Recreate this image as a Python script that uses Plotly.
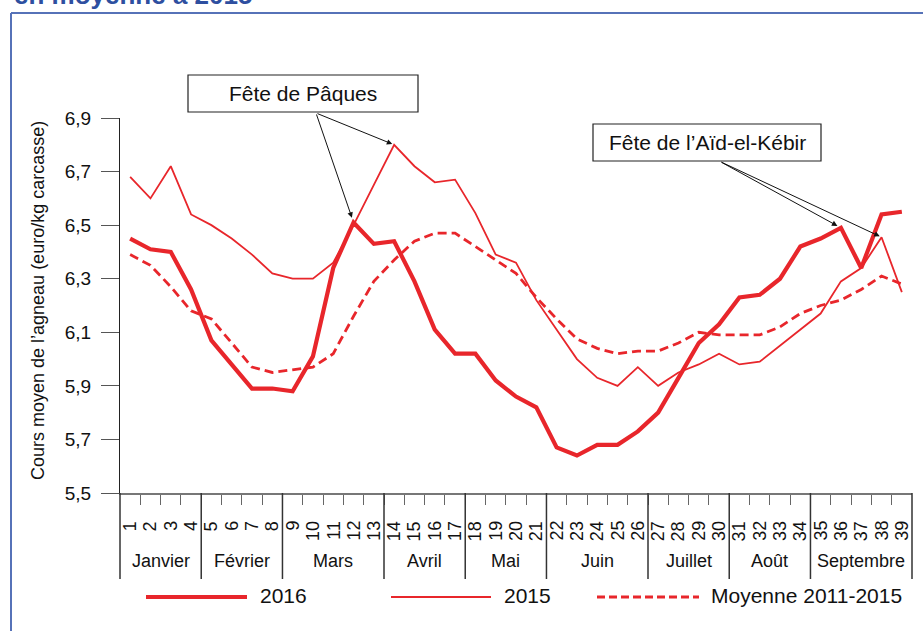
import plotly.graph_objects as go

# ---------------- data ----------------
weeks = list(range(1, 40))
week_labels = [str(w) for w in weeks]

prix_2016 = [6.45, 6.41, 6.40, 6.26, 6.07, 5.98, 5.89, 5.89, 5.88, 6.01,
             6.34, 6.51, 6.43, 6.44, 6.29, 6.11, 6.02, 6.02, 5.92, 5.86,
             5.82, 5.67, 5.64, 5.68, 5.68, 5.73, 5.80, 5.93, 6.06, 6.13,
             6.23, 6.24, 6.30, 6.42, 6.45, 6.49, 6.34, 6.54, 6.55]

prix_2015 = [6.68, 6.60, 6.72, 6.54, 6.50, 6.45, 6.39, 6.32, 6.30, 6.30,
             6.36, 6.50, 6.65, 6.80, 6.72, 6.66, 6.67, 6.545, 6.39, 6.36,
             6.22, 6.11, 6.00, 5.93, 5.90, 5.97, 5.90, 5.95, 5.98, 6.02,
             5.98, 5.99, 6.05, 6.11, 6.17, 6.29, 6.34, 6.455, 6.25]

moyenne_2011_2015 = [6.39, 6.35, 6.27, 6.18, 6.15, 6.06, 5.97, 5.95, 5.96, 5.97,
                     6.02, 6.16, 6.29, 6.37, 6.44, 6.47, 6.47, 6.42, 6.37, 6.32,
                     6.23, 6.15, 6.075, 6.04, 6.02, 6.03, 6.03, 6.06, 6.10, 6.09,
                     6.09, 6.09, 6.12, 6.17, 6.20, 6.22, 6.26, 6.31, 6.28]

months = ["Janvier", "Février", "Mars", "Avril", "Mai", "Juin",
          "Juillet", "Août", "Septembre"]
month_weeks = [4, 4, 5, 4, 4, 5, 4, 4, 5]

y_ticks = [5.5, 5.7, 5.9, 6.1, 6.3, 6.5, 6.7, 6.9]

series_names = ["2016", "2015", "Moyenne 2011-2015"]
y_title = "Cours moyen de l\u2019agneau (euro/kg carcasse)"
title_text = "en moyenne à 2015"
note_paques = "Fête de Pâques"
note_aid = "Fête de l\u2019Aïd-el-Kébir"

# ---------------- layout helpers ----------------
W, H = 923, 631
L, R, T, B = 120, 11, 118, 138
PW, PH = W - L - R, H - T - B
RED = "#e8262b"
FONT = "Liberation Sans, Arial, sans-serif"
TXT = "#111111"


def px2x(px):
    return (px - L) / PW


def py2y(py):
    return (H - B - py) / PH


fig = go.Figure()

fig.add_trace(go.Scatter(x=weeks, y=moyenne_2011_2015, mode="lines",
                         name=series_names[2],
                         line=dict(color=RED, width=2.8, dash="9px,5px")))
fig.add_trace(go.Scatter(x=weeks, y=prix_2015, mode="lines", name=series_names[1],
                         line=dict(color=RED, width=1.8)))
fig.add_trace(go.Scatter(x=weeks, y=prix_2016, mode="lines", name=series_names[0],
                         line=dict(color=RED, width=4.2)))

shapes = []
annotations = []

# month boundaries (long separators below axis)
bounds = [0]
for n in month_weeks:
    bounds.append(bounds[-1] + n)
n_weeks = len(weeks)
for b in bounds:
    xp = b / n_weeks
    shapes.append(dict(type="line", xref="paper", yref="paper",
                       x0=xp, x1=xp, y0=0, y1=py2y(579),
                       line=dict(color="#333333", width=1.5)))

# week labels (rotated, aligned at top)
for w, lab in zip(weeks, week_labels):
    annotations.append(dict(x=w, xref="x", y=py2y(519), yref="paper",
                            xanchor="center", yanchor="top", textangle=-90,
                            text=lab, showarrow=False,
                            font=dict(size=18, color=TXT, family=FONT)))

# month labels
for i, m in enumerate(months):
    center = (bounds[i] + bounds[i + 1]) / 2 + 0.5
    annotations.append(dict(x=center, xref="x", y=py2y(561), yref="paper",
                            xanchor="center", yanchor="middle",
                            text=m, showarrow=False,
                            font=dict(size=18, color=TXT, family=FONT)))

# outer frame (blue)
shapes.append(dict(type="line", xref="paper", yref="paper",
                   x0=px2x(11), x1=px2x(925), y0=py2y(13), y1=py2y(13),
                   line=dict(color="#5672b8", width=2)))
shapes.append(dict(type="line", xref="paper", yref="paper",
                   x0=px2x(11), x1=px2x(11), y0=py2y(13), y1=py2y(640),
                   line=dict(color="#5672b8", width=2)))

# title (cut at the top, as in the source)
annotations.append(dict(x=px2x(12), y=py2y(-5), xref="paper", yref="paper",
                        xanchor="left", yanchor="middle", text="<b>" + title_text + "</b>",
                        showarrow=False, font=dict(size=26, color="#2e4fa0", family=FONT)))

# y title
annotations.append(dict(x=px2x(38), y=py2y(301), xref="paper", yref="paper",
                        xanchor="center", yanchor="middle",
                        text=y_title, textangle=-90, showarrow=False,
                        font=dict(size=18, color=TXT, family=FONT)))

# annotation boxes
shapes.append(dict(type="rect", xref="paper", yref="paper",
                   x0=px2x(188), x1=px2x(418), y0=py2y(75), y1=py2y(112),
                   line=dict(color="#222222", width=1.2), fillcolor="white"))
annotations.append(dict(x=px2x(303), y=py2y(93.5), xref="paper", yref="paper",
                        xanchor="center", yanchor="middle",
                        text=note_paques, showarrow=False,
                        font=dict(size=21, color=TXT, family=FONT)))
shapes.append(dict(type="rect", xref="paper", yref="paper",
                   x0=px2x(593), x1=px2x(821), y0=py2y(124), y1=py2y(161),
                   line=dict(color="#222222", width=1.2), fillcolor="white"))
annotations.append(dict(x=px2x(707), y=py2y(142.5), xref="paper", yref="paper",
                        xanchor="center", yanchor="middle",
                        text=note_aid, showarrow=False,
                        font=dict(size=21, color=TXT, family=FONT)))

# arrows
pq_tail = ((316 - L) / PW * 39 + 0.5, 6.9 + (T - 113) / PH * 1.4)
aid_tail = ((720 - L) / PW * 39 + 0.5, 6.9 + (T - 161.5) / PH * 1.4)
for (wk, series, tail, so) in [(12, prix_2016, pq_tail, 5), (14, prix_2015, pq_tail, 2),
                               (36, prix_2016, aid_tail, 4), (38, prix_2015, aid_tail, 2)]:
    annotations.append(dict(x=wk, y=series[wk - 1], xref="x", yref="y",
                            ax=tail[0], ay=tail[1], axref="x", ayref="y",
                            text="", showarrow=True, arrowhead=2, arrowsize=1.1,
                            arrowwidth=1, arrowcolor=TXT, standoff=so))

# legend (manual)
leg_y = py2y(597)
shapes.append(dict(type="line", xref="paper", yref="paper", x0=px2x(146), x1=px2x(247),
                   y0=leg_y, y1=leg_y, line=dict(color=RED, width=4.2)))
shapes.append(dict(type="line", xref="paper", yref="paper", x0=px2x(391), x1=px2x(491),
                   y0=leg_y, y1=leg_y, line=dict(color=RED, width=1.8)))
shapes.append(dict(type="line", xref="paper", yref="paper", x0=px2x(597), x1=px2x(699),
                   y0=leg_y, y1=leg_y, line=dict(color=RED, width=2.8, dash="8px,4px")))
for name, xl in zip(series_names, [258, 502, 709]):
    annotations.append(dict(x=px2x(xl), y=py2y(595), xref="paper", yref="paper",
                            xanchor="left", yanchor="middle", text=name, showarrow=False,
                            font=dict(size=21, color=TXT, family=FONT)))

fig.update_layout(
    width=W, height=H,
    margin=dict(l=L, r=R, t=T, b=B),
    paper_bgcolor="white", plot_bgcolor="white",
    showlegend=False,
    separators=", ",
    font=dict(family=FONT, color=TXT),
    shapes=shapes, annotations=annotations,
    xaxis=dict(range=[0.5, 39.5], showgrid=False, zeroline=False,
               showline=True, linecolor="#777777", linewidth=1.5,
               tickmode="array", tickvals=weeks, ticktext=week_labels,
               ticks="", showticklabels=False,
               minor=dict(tickmode="array", tickvals=[w + 0.5 for w in weeks[:-1]],
                          ticks="outside", ticklen=10, tickcolor="#666666", tickwidth=1.3)),
    yaxis=dict(range=[5.5, 6.9], showgrid=False, zeroline=False,
               showline=True, linecolor="#222222", linewidth=1.3,
               tickmode="array", tickvals=y_ticks, tickformat=".1f",
               ticks="outside", ticklen=18, tickcolor="#555555", tickwidth=1.3,
               ticklabelstandoff=6,
               tickfont=dict(size=19, color=TXT, family=FONT)),
)

fig.write_html("out.html", config={"displayModeBar": False},
               post_script="document.body.style.margin='0px';")
